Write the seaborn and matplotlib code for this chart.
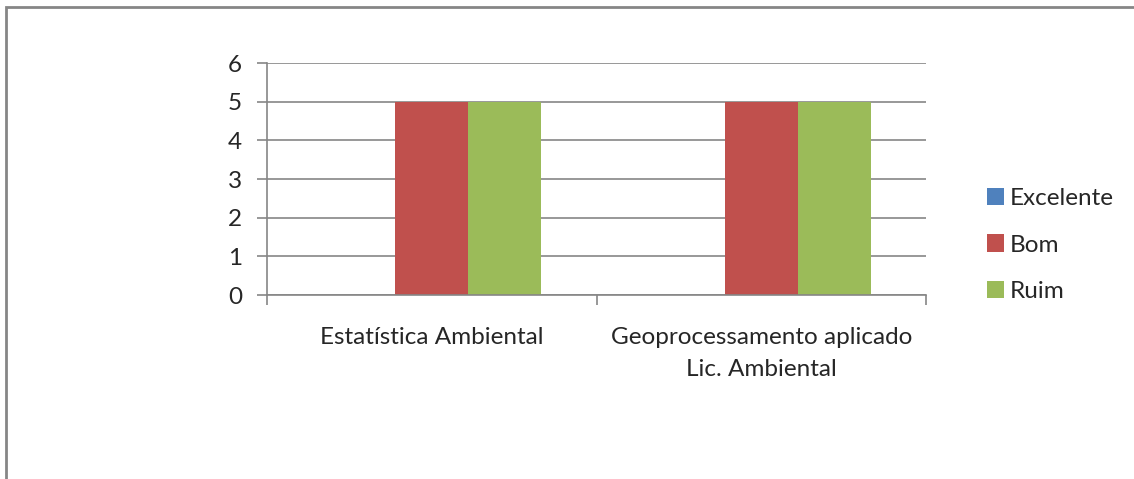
import matplotlib
matplotlib.use("Agg")
import matplotlib.pyplot as plt
import seaborn as sns
import pandas as pd
from matplotlib.patches import Rectangle, Patch

categories = ["Estatística Ambiental", "Geoprocessamento aplicado\nLic. Ambiental"]
series = ["Excelente", "Bom", "Ruim"]
excelente = [0, 0]
bom = [5, 5]
ruim = [5, 5]
colors = ["#4F81BD", "#C0504D", "#9BBB59"]
yticks = [0, 1, 2, 3, 4, 5, 6]

rows = []
for name, vals in zip(series, [excelente, bom, ruim]):
    for cat, v in zip(categories, vals):
        rows.append({"cat": cat, "serie": name, "valor": v})
df = pd.DataFrame(rows)

sns.set_style("white")
plt.rcParams["font.family"] = ["Lato", "DejaVu Sans"]
grey = "#868686"
fs = 17.5

fig = plt.figure(figsize=(11.34, 4.79), dpi=100)
ax = fig.add_axes([267 / 1134, 1 - 295 / 479, 659 / 1134, 232 / 479])

sns.barplot(data=df, x="cat", y="valor", hue="serie", hue_order=series,
            palette=colors, width=0.665, saturation=1, ax=ax, legend=False,
            edgecolor="none", linewidth=0, errorbar=None)

ax.set_xlim(-0.5, 1.5)
ax.set_ylim(0, 6)
ax.set_yticks(yticks)
ax.yaxis.grid(True, color=grey, linewidth=1.2)
ax.set_axisbelow(True)
ax.set_xlabel("")
ax.set_ylabel("")

# category boundaries as major ticks, labels on minor ticks
ax.set_xticks([-0.5, 0.5, 1.5])
ax.set_xticklabels([])
ax.set_xticks([0, 1], minor=True)
ax.set_xticklabels(categories, minor=True, fontsize=fs, linespacing=1.65)
ax.tick_params(axis="x", which="major", direction="out", length=7,
               color=grey, width=1.2, bottom=True)
ax.tick_params(axis="x", which="minor", length=0, pad=23)
ax.tick_params(axis="y", direction="out", length=7, color=grey, width=1.2,
               left=True, labelsize=fs, pad=11)

for side in ["top", "right"]:
    ax.spines[side].set_visible(False)
for side in ["left", "bottom"]:
    ax.spines[side].set_color(grey)
    ax.spines[side].set_linewidth(1.2)

handles = [Patch(facecolor=c, edgecolor="none") for c in colors]
fig.legend(handles, series, loc="center left",
           bbox_to_anchor=(965 / 1134, 1 - 245 / 479), frameon=False,
           fontsize=fs, handlelength=0.7, handleheight=0.7,
           handletextpad=0.25, labelspacing=1.05)

# chart frame, partly off the canvas
frame = Rectangle((6 / 1134, -0.2), 1.2, 1.2 - 7 / 479,
                  transform=fig.transFigure, fill=False,
                  edgecolor=grey, linewidth=2)
fig.patches.append(frame)

fig.savefig("out.png", dpi=100)
